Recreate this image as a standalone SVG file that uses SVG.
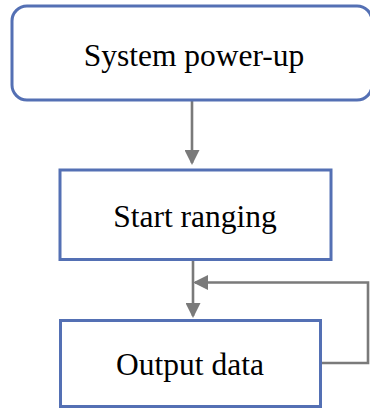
<svg xmlns="http://www.w3.org/2000/svg" width="370" height="408" viewBox="0 0 370 408">
  <style>
    .box { fill: #ffffff; stroke: #5470B4; stroke-width: 3; }
    .label { font-family: "Liberation Serif", "Times New Roman", serif; font-size: 31.5px; fill: #000000; text-anchor: middle; }
    .conn { fill: none; stroke: #7A7A7A; stroke-width: 2.6; }
  </style>
  <defs>
    <marker id="arrow" markerUnits="userSpaceOnUse" markerWidth="15" markerHeight="15" viewBox="0 0 15 15" refX="13" refY="7.5" orient="auto">
      <path d="M0,0 L15,7.5 L0,15 z" fill="#7A7A7A"/>
    </marker>
  </defs>
  <rect width="370" height="408" fill="#ffffff"/>
  <g id="connectors">
    <line class="conn" x1="192" y1="100" x2="192" y2="163" marker-end="url(#arrow)"/>
    <line class="conn" x1="193" y1="260" x2="193" y2="316" marker-end="url(#arrow)"/>
    <polyline class="conn" points="320,363 368,363 368,282.5 195,282.5" marker-end="url(#arrow)"/>
  </g>
  <g id="node-power-up">
    <rect class="box" x="12" y="6" width="360" height="94" rx="15" ry="15"/>
    <text class="label" x="194" y="66">System power-up</text>
  </g>
  <g id="node-start-ranging">
    <rect class="box" x="60" y="170" width="271" height="89.5"/>
    <text class="label" x="195" y="226.5">Start ranging</text>
  </g>
  <g id="node-output-data">
    <rect class="box" x="60.5" y="320.5" width="260" height="86"/>
    <text class="label" x="190" y="375">Output data</text>
  </g>
</svg>
